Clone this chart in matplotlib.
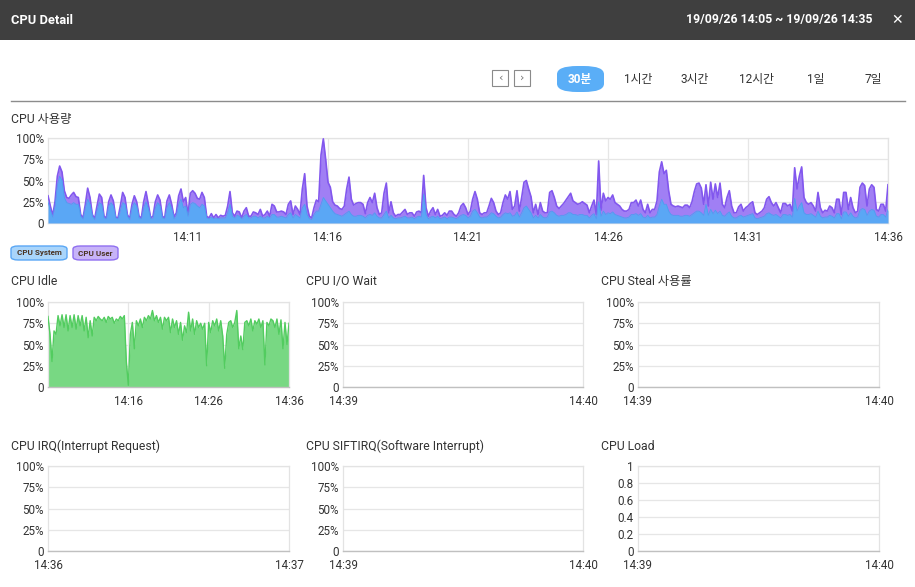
import matplotlib
matplotlib.use("Agg")
import matplotlib.pyplot as plt
import matplotlib.dates as mdates
from matplotlib.patches import FancyBboxPatch, Rectangle
import numpy as np
import pandas as pd

plt.rcParams['font.family'] = ['Roboto', 'Noto Sans CJK KR', 'DejaVu Sans']

# ---- data ----
# CPU usage, 5 second samples 14:06:00 -> 14:36:00, top of stack (system + user) in %
cpu_total = [
    32, 20, 9, 25, 55, 67, 60, 38, 30, 29, 33, 36,
    31, 30, 10, 6, 22, 41, 30, 10, 5, 20, 34, 30,
    8, 6, 25, 33, 26, 7, 6, 20, 36, 30, 10, 5,
    22, 32, 25, 8, 6, 25, 37, 22, 6, 8, 25, 33,
    27, 8, 6, 26, 33, 22, 7, 12, 32, 40, 25, 30,
    10, 35, 38, 35, 29, 28, 36, 30, 8, 6, 11, 6,
    10, 6, 9, 8, 9, 20, 37, 12, 8, 14, 13, 6,
    14, 18, 8, 8, 13, 12, 10, 16, 8, 10, 14, 8,
    22, 20, 13, 13, 14, 13, 10, 22, 26, 10, 20, 16,
    10, 40, 58, 20, 8, 6, 18, 27, 25, 80, 99, 75,
    48, 42, 25, 21, 20, 17, 16, 20, 40, 54, 28, 21,
    23, 24, 24, 22, 11, 24, 30, 24, 35, 18, 10, 12,
    35, 47, 12, 25, 12, 8, 10, 10, 13, 16, 10, 12,
    12, 8, 13, 14, 12, 56, 18, 8, 14, 18, 10, 16,
    8, 9, 12, 9, 14, 14, 10, 8, 12, 20, 23, 18,
    10, 14, 28, 37, 28, 12, 10, 12, 12, 20, 29, 24,
    14, 10, 12, 24, 33, 28, 37, 16, 20, 38, 14, 30,
    48, 50, 40, 31, 12, 22, 10, 24, 14, 12, 12, 36,
    38, 30, 20, 17, 20, 23, 27, 31, 35, 26, 24, 22,
    23, 25, 23, 21, 12, 20, 27, 10, 73, 15, 35, 26,
    30, 28, 33, 24, 22, 20, 16, 14, 14, 16, 24, 24,
    27, 20, 27, 16, 12, 22, 12, 16, 16, 26, 60, 72,
    58, 62, 38, 22, 20, 19, 20, 19, 18, 21, 21, 18,
    25, 37, 46, 47, 41, 22, 45, 20, 48, 28, 46, 30,
    47, 22, 18, 30, 38, 20, 12, 12, 19, 22, 14, 18,
    20, 23, 25, 12, 10, 12, 14, 18, 28, 31, 24, 20,
    24, 18, 12, 23, 23, 20, 22, 14, 65, 40, 55, 66,
    30, 24, 22, 24, 20, 14, 36, 18, 12, 15, 14, 20,
    18, 12, 28, 28, 10, 36, 36, 16, 30, 18, 12, 14,
    42, 47, 44, 20, 40, 45, 42, 16, 14, 22, 22, 14,
    45,
]
cpu_system = [
    25, 15, 7, 20, 45, 55, 50, 30, 24, 23, 22, 24,
    22, 22, 8, 5, 18, 28, 22, 8, 4, 15, 24, 22,
    6, 5, 20, 24, 20, 6, 5, 15, 24, 22, 8, 4,
    18, 24, 20, 6, 5, 18, 25, 17, 5, 6, 18, 24,
    20, 6, 5, 18, 24, 17, 5, 9, 22, 28, 18, 20,
    8, 22, 24, 23, 20, 18, 22, 20, 6, 5, 7, 5,
    6, 5, 6, 6, 6, 12, 22, 8, 6, 9, 8, 5,
    8, 10, 6, 6, 8, 8, 6, 8, 6, 6, 8, 6,
    10, 10, 7, 7, 8, 7, 6, 10, 12, 6, 10, 8,
    6, 18, 22, 10, 5, 4, 10, 14, 14, 22, 30, 26,
    22, 18, 14, 11, 10, 9, 8, 10, 12, 14, 10, 8,
    8, 9, 9, 8, 6, 9, 10, 9, 12, 8, 6, 6,
    10, 14, 6, 9, 6, 5, 6, 6, 7, 8, 6, 6,
    7, 5, 7, 8, 7, 34, 10, 5, 7, 8, 6, 8,
    5, 6, 7, 5, 7, 7, 6, 5, 7, 9, 10, 9,
    6, 8, 14, 16, 12, 7, 6, 7, 7, 9, 12, 11,
    8, 6, 7, 10, 12, 11, 12, 8, 9, 13, 7, 12,
    18, 20, 16, 12, 6, 9, 6, 10, 7, 6, 7, 13,
    14, 12, 9, 8, 9, 9, 10, 12, 12, 10, 10, 9,
    10, 10, 9, 9, 6, 9, 11, 5, 25, 8, 14, 10,
    12, 11, 13, 10, 9, 8, 7, 6, 6, 7, 10, 10,
    11, 9, 11, 7, 6, 9, 6, 7, 7, 10, 20, 28,
    22, 22, 14, 10, 9, 9, 9, 8, 8, 9, 9, 8,
    10, 12, 14, 14, 12, 9, 22, 9, 16, 11, 15, 11,
    14, 9, 8, 11, 13, 8, 6, 6, 8, 9, 7, 8,
    9, 10, 11, 6, 5, 6, 7, 8, 11, 12, 10, 9,
    10, 8, 6, 10, 10, 9, 10, 7, 29, 14, 20, 24,
    12, 10, 10, 11, 9, 7, 14, 8, 6, 7, 7, 9,
    8, 6, 11, 11, 5, 13, 13, 8, 12, 8, 6, 7,
    15, 17, 16, 9, 14, 16, 15, 8, 7, 10, 10, 7,
    16,
]
# CPU idle, 15 second samples 14:06:00 -> 14:36:00, %
cpu_idle = [
    83, 62, 30, 66, 62, 84, 72, 85, 70, 85, 66, 84,
    70, 85, 68, 84, 72, 84, 66, 82, 58, 78, 60, 82,
    78, 83, 80, 78, 82, 76, 83, 80, 82, 75, 80, 78,
    83, 80, 84, 30, 2, 62, 76, 45, 78, 72, 80, 70,
    82, 78, 84, 80, 90, 78, 84, 76, 82, 68, 82, 78,
    82, 64, 80, 70, 78, 62, 76, 55, 72, 64, 88, 66,
    80, 62, 78, 70, 75, 68, 75, 25, 76, 64, 78, 72,
    80, 66, 78, 60, 22, 62, 76, 78, 70, 76, 90, 45,
    60, 44, 76, 78, 72, 80, 66, 78, 74, 80, 70, 78,
    26, 76, 72, 80, 78, 70, 80, 62, 79, 45, 76, 50,
    75,
]

pct_ticks = [0, 25, 50, 75, 100]
pct_labels = ['0', '25%', '50%', '75%', '100%']
load_ticks = [0, 0.2, 0.4, 0.6, 0.8, 1]
load_labels = ['0', '0.2', '0.4', '0.6', '0.8', '1']
main_xticks = ['14:11', '14:16', '14:21', '14:26', '14:31', '14:36']
idle_xticks = ['14:16', '14:26', '14:36']
range_buttons = ['30분', '1시간', '3시간', '12시간', '1일', '7일']

# small charts with no data: (title, left label, right label, kind)
empty_charts = [
    ('CPU I/O Wait', '14:39', '14:40', 'pct'),
    ('CPU Steal 사용률', '14:39', '14:40', 'pct'),
    ('CPU IRQ(Interrupt Request)', '14:36', '14:37', 'pct'),
    ('CPU SIFTIRQ(Software Interrupt)', '14:39', '14:40', 'pct'),
    ('CPU Load', '14:39', '14:40', 'load'),
]

t_main = pd.date_range('2019-09-26 14:06:00', periods=len(cpu_total), freq='5s')
t_idle = pd.date_range('2019-09-26 14:06:00', periods=len(cpu_idle), freq='15s')

W, H = 915, 587
fig = plt.figure(figsize=(W / 100, H / 100), dpi=100)
fig.patch.set_facecolor('white')


def px_axes(x0, y0, x1, y1):
    return fig.add_axes([x0 / W, 1 - y1 / H, (x1 - x0) / W, (y1 - y0) / H])


def fx(x):
    return x / W


def fy(y):
    return 1 - y / H


GRID = '#e6e6e6'
TXT = '#333333'
TITLE_FS = 8.8


def style(ax, yticks, ylabels):
    ax.set_facecolor('white')
    ax.set_yticks(yticks)
    ax.set_yticklabels(ylabels)
    ax.set_ylim(yticks[0], yticks[-1])
    ax.grid(True, color=GRID, linewidth=0.9)
    ax.set_axisbelow(True)
    for s in ['top', 'right', 'left']:
        ax.spines[s].set_color('#e3e3e3')
        ax.spines[s].set_linewidth(0.9)
    ax.spines['bottom'].set_color('#c0c0c0')
    ax.spines['bottom'].set_linewidth(1.0)
    ax.tick_params(length=0, labelsize=8.4, colors=TXT)
    ax.tick_params(axis='y', pad=3)
    ax.tick_params(axis='x', pad=5.5)


# ---- header ----
fig.patches.append(Rectangle((0, fy(40)), 1, 40 / H, transform=fig.transFigure,
                             facecolor='#3f3f3f', edgecolor='none', zorder=0))
fig.text(fx(11), fy(20), 'CPU Detail', color='white', fontsize=9.3, fontweight='bold',
         va='center', ha='left')
fig.text(fx(872), fy(20), '19/09/26 14:05 ~ 19/09/26 14:35', color='white', fontsize=8.8,
         fontweight='bold', va='center', ha='right')
fig.text(fx(897), fy(20), '✕', color='white', fontsize=10, fontweight='bold',
         va='center', ha='center', family=['DejaVu Sans'])

# ---- range selector ----
for bx, ch in [(492, '‹'), (514, '›')]:
    fig.patches.append(Rectangle((fx(bx), fy(86)), 16 / W, 16 / H, transform=fig.transFigure,
                                 facecolor='white', edgecolor='#8a8a8a', linewidth=0.8))
    fig.text(fx(bx + 8), fy(78), ch, color='#777777', fontsize=8, ha='center', va='center',
             family=['DejaVu Sans'])

fig.patches.append(FancyBboxPatch((fx(557), fy(92)), 47 / W, 26 / H,
                                  boxstyle='round,pad=0,rounding_size=0.022',
                                  transform=fig.transFigure, facecolor='#5aaef7',
                                  edgecolor='none', mutation_aspect=H / W))
btn_x = [580, 638, 695, 756, 816, 873]
for i, lab in enumerate(range_buttons):
    fig.text(fx(btn_x[i]), fy(79), lab, fontsize=8.5, ha='center', va='center',
             color='white' if i == 0 else '#333333', fontweight='bold' if i == 0 else 'normal')

fig.add_artist(plt.Line2D([fx(11), fx(905)], [fy(101), fy(101)], color='#8c8c8c',
                          linewidth=1.0, transform=fig.transFigure))

# ---- main CPU chart ----
fig.text(fx(11), fy(119), 'CPU 사용량', fontsize=TITLE_FS, color=TXT, va='center', ha='left')
ax = px_axes(48, 138, 888, 223)
style(ax, pct_ticks, pct_labels)
top = np.maximum(np.array(cpu_total, float), np.array(cpu_system, float))
ax.fill_between(t_main, 0, top, color='#a07ff4', linewidth=0, zorder=2)
ax.plot(t_main, top, color='#8257ee', linewidth=1.2, zorder=3)
ax.fill_between(t_main, 0, cpu_system, color='#5aa7f5', linewidth=0, zorder=4)
ax.plot(t_main, cpu_system, color='#4f9cf0', linewidth=0.6, zorder=4)
ax.set_xlim(t_main[0], t_main[-1])
ax.set_xticks(pd.to_datetime(['2019-09-26 ' + s for s in main_xticks]))
ax.xaxis.set_major_formatter(mdates.DateFormatter('%H:%M'))
ax.spines['bottom'].set_color('#e3e3e3')

# legend pills
for x0, x1, lab, fc, ec in [(11, 67, 'CPU System', '#a9d5fb', '#5aa7f5'),
                            (73, 118, 'CPU User', '#c7b3f8', '#8f6ff0')]:
    fig.patches.append(FancyBboxPatch((fx(x0), fy(260)), (x1 - x0) / W, 14 / H,
                                      boxstyle='round,pad=0,rounding_size=0.008',
                                      transform=fig.transFigure, facecolor=fc,
                                      edgecolor=ec, linewidth=1.0, mutation_aspect=H / W))
    fig.text(fx((x0 + x1) / 2), fy(253), lab, fontsize=5.8, fontweight='bold',
             color='#4a3322', ha='center', va='center')

# ---- CPU Idle ----
fig.text(fx(11), fy(282), 'CPU Idle', fontsize=TITLE_FS, color=TXT, va='center', ha='left')
ax = px_axes(48, 302, 289, 387)
style(ax, pct_ticks, pct_labels)
ax.fill_between(t_idle, 0, cpu_idle, color='#78d883', linewidth=0, zorder=2)
ax.plot(t_idle, cpu_idle, color='#52cc5f', linewidth=1.0, zorder=3)
ax.set_xlim(t_idle[0], t_idle[-1])
ax.set_xticks(pd.to_datetime(['2019-09-26 ' + s for s in idle_xticks]))
ax.xaxis.set_major_formatter(mdates.DateFormatter('%H:%M'))

# ---- empty small charts ----
positions = [(343, 583, 302, 387, 306, 282), (638, 879, 302, 387, 601, 282),
             (48, 289, 466, 551, 11, 446), (343, 583, 466, 551, 306, 446),
             (638, 879, 466, 551, 601, 446)]
for (title, l0, l1, kind), (x0, x1, y0, y1, tx, ty) in zip(empty_charts, positions):
    fig.text(fx(tx), fy(ty), title, fontsize=TITLE_FS, color=TXT, va='center', ha='left')
    ax = px_axes(x0, y0, x1, y1)
    if kind == 'pct':
        style(ax, pct_ticks, pct_labels)
    else:
        style(ax, load_ticks, load_labels)
    ax.set_xlim(0, 1)
    ax.set_xticks([0, 1])
    ax.set_xticklabels([l0, l1])
    ax.xaxis.grid(False)

fig.savefig('out.png', dpi=100, facecolor='white')
